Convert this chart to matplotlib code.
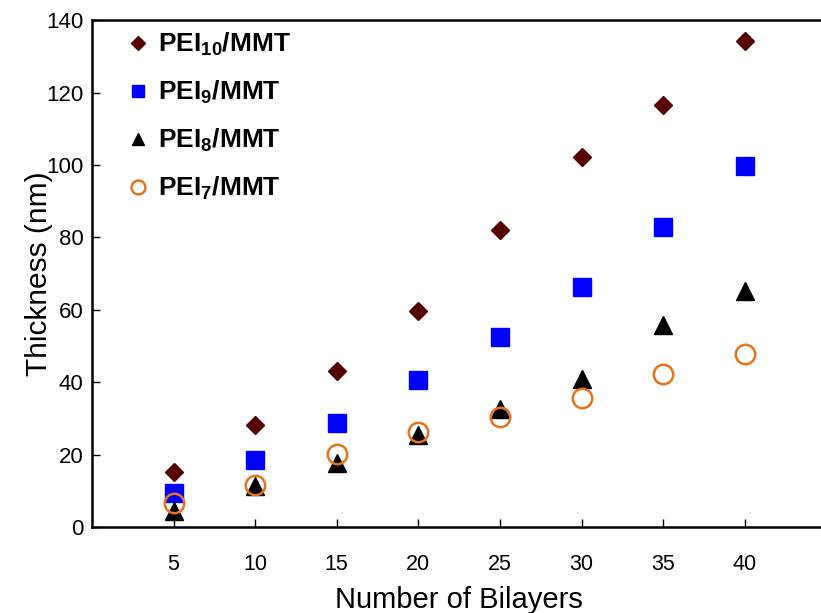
import numpy as np
import matplotlib
matplotlib.use("Agg")
import matplotlib.pyplot as plt

plt.rcParams['font.family'] = ['Liberation Sans', 'DejaVu Sans']
plt.rcParams['mathtext.fontset'] = 'custom'
plt.rcParams['mathtext.rm'] = 'Liberation Sans'
plt.rcParams['mathtext.bf'] = 'Liberation Sans:bold'

# thickness (nm) vs number of bilayers
bilayers = [5, 10, 15, 20, 25, 30, 35, 40]
pei10 = [15.2, 28.2, 43.1, 59.7, 82.0, 102.2, 116.6, 134.3]
pei9 = [9.4, 18.5, 28.7, 40.6, 52.5, 66.3, 82.9, 99.7]
pei8 = [4.4, 11.3, 17.7, 25.4, 32.6, 40.9, 55.8, 65.2]
pei7 = [6.6, 11.6, 20.2, 26.2, 30.4, 35.6, 42.3, 47.8]

fig = plt.figure(figsize=(8.21, 6.13), dpi=100)
ax = fig.add_axes([0.112, 0.140, 0.8945, 0.827])

ax.plot(bilayers, pei10, 'D', color='#560000', markersize=9.5, linestyle='none',
        label=r'$\mathbf{PEI_{10}/MMT}$')
ax.plot(bilayers, pei9, 's', color='#0000ff', markersize=13, linestyle='none',
        label=r'$\mathbf{PEI_{9}/MMT}$')
ax.plot(bilayers, pei8, '^', color='black', markersize=13, linestyle='none',
        label=r'$\mathbf{PEI_{8}/MMT}$')
ax.plot(bilayers, pei7, 'o', markerfacecolor='none', markeredgecolor='#e8731c',
        markeredgewidth=1.8, markersize=14, linestyle='none',
        label=r'$\mathbf{PEI_{7}/MMT}$')

ax.set_xlim(0, 45)
ax.set_ylim(0, 140)
ax.set_xticks(bilayers)
ax.set_yticks(np.arange(0, 141, 20))
ax.tick_params(direction='in', length=6, width=1)
ax.tick_params(axis='x', labelsize=15.5, pad=19)
ax.tick_params(axis='y', labelsize=16, pad=6)
for s in ax.spines.values():
    s.set_linewidth(1.8)

ax.set_xlabel('Number of Bilayers', fontsize=21, labelpad=8)
ax.set_ylabel('Thickness (nm)', fontsize=21.5, labelpad=-5)

leg = ax.legend(loc='upper left', frameon=False, fontsize=19, handletextpad=0.15,
                labelspacing=0.79, borderaxespad=0.0, handlelength=1.2,
                bbox_to_anchor=(0.027, 1.0))
for h, ms in zip(leg.legend_handles, [7, 9, 9, 10]):
    h.set_markersize(ms)

fig.savefig('out.png', dpi=100)
